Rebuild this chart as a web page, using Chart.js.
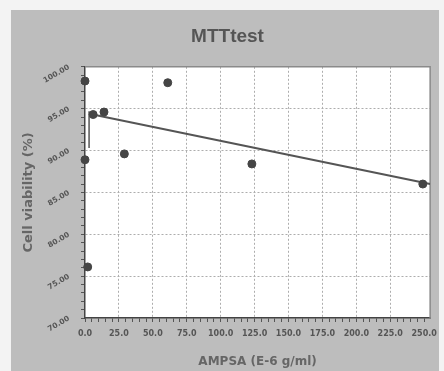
<!DOCTYPE html>
<html>
<head>
<meta charset="utf-8">
<script src="https://cdn.jsdelivr.net/npm/chart.js@4.4.0/dist/chart.umd.min.js"></script>
<style>
html, body { margin: 0; padding: 0; background: #f3f3f3; }
</style>
</head>
<body>
<canvas id="myChart" width="444" height="371"></canvas>
<script>
// MTT test
var doseValues = [0, 0, 2, 6, 14, 29, 61, 123, 249];
var viabilityValues = [98.3, 88.9, 76.1, 94.3, 94.6, 89.6, 98.1, 88.4, 86.0];

// fitted trend line and the short vertical bar near the origin
var fitX = [3, 254.4];
var fitY = [94.4, 86.0];
var barX = [3, 3];
var barY = [94.7, 90.3];

// axis ticks
var xTickValues = [0, 25, 50, 75, 100, 125, 150, 175, 200, 225, 250];
var xTickLabels = ['0.0', '25.0', '50.0', '75.0', '100.0', '125.0', '150.0', '175.0', '200.0', '225.0', '250.0'];
var yTickValues = [70, 75, 80, 85, 90, 95, 100];
var yTickLabels = ['70.00', '75.00', '80.00', '85.00', '90.00', '95.00', '100.00'];
var xMinorStep = 5;
var yMinorStep = 1;

function toPoints(xs, ys) {
  return xs.map(function (x, i) { return { x: x, y: ys[i] }; });
}

// major + minor tick marks
function buildTicks(values, step, min, max) {
  var out = [];
  for (var v = min; v <= max + 1e-6; v += step) {
    var major = values.indexOf(Math.round(v * 100) / 100);
    out.push({ value: v, major: major >= 0 });
  }
  return out;
}

function labelFor(values, labels, v) {
  var i = values.indexOf(Math.round(v * 100) / 100);
  return i >= 0 ? labels[i] : '';
}

function gridColor(values, first, last) {
  return function (ctx) {
    if (!ctx.tick) return 'rgba(0,0,0,0)';
    var v = ctx.tick.value;
    if (v === first || v === last) return 'rgba(0,0,0,0)';
    return values.indexOf(Math.round(v * 100) / 100) >= 0 ? '#adadad' : 'rgba(0,0,0,0)';
  };
}

var framePlugin = {
  id: 'frame',
  beforeDraw: function (chart) {
    var c = chart.ctx, a = chart.chartArea;
    c.save();
    c.fillStyle = '#f3f3f3';
    c.fillRect(0, 0, chart.width, chart.height);
    c.fillStyle = '#bdbdbd';
    c.fillRect(11, 10, 428, 361);
    c.fillStyle = '#ffffff';
    c.fillRect(a.left, a.top, a.right - a.left, a.bottom - a.top);
    c.restore();
  },
  beforeDatasetsDraw: function (chart) {
    var c = chart.ctx, a = chart.chartArea;
    c.save();
    c.strokeStyle = '#8a8a8a';
    c.lineWidth = 1.5;
    c.beginPath();
    c.moveTo(a.left, a.top);
    c.lineTo(a.right, a.top);
    c.lineTo(a.right, a.bottom);
    c.stroke();
    c.restore();
  }
};

var ctx = document.getElementById('myChart');
var myChart = new Chart(ctx, {
  type: 'scatter',
  data: {
    datasets: [{
      label: 'Cell viability',
      data: toPoints(doseValues, viabilityValues),
      backgroundColor: '#454545',
      borderColor: '#454545',
      pointRadius: 4,
      clip: false
    }, {
      label: 'Fit',
      data: toPoints(fitX, fitY),
      showLine: true,
      borderColor: '#555555',
      borderWidth: 2,
      pointRadius: 0
    }, {
      label: 'Bar',
      data: toPoints(barX, barY),
      showLine: true,
      borderColor: '#555555',
      borderWidth: 1.5,
      pointRadius: 0
    }]
  },
  options: {
    responsive: false,
    animation: false,
    layout: { padding: { left: 21, right: 10, top: 0, bottom: 0 } },
    plugins: {
      legend: { display: false },
      tooltip: { enabled: false },
      title: {
        display: true,
        text: 'MTTtest',
        color: '#555555',
        font: { family: 'Liberation Sans', size: 19, weight: 'bold' },
        padding: { top: 25, bottom: 19 }
      }
    },
    scales: {
      x: {
        type: 'linear',
        min: 0,
        max: 254.4,
        afterBuildTicks: function (scale) {
          scale.ticks = buildTicks(xTickValues, xMinorStep, 0, 250);
        },
        afterFit: function (scale) { scale.height = 53; },
        grid: {
          color: gridColor(xTickValues, 0, 250),
          tickLength: 4,
          tickColor: '#555555',
          tickBorderDash: []
        },
        border: { color: '#444444', width: 1.5, dash: [2, 2] },
        ticks: {
          color: '#555555',
          font: { family: 'DejaVu Sans', size: 8, weight: 'bold' },
          padding: 7,
          autoSkip: false,
          maxRotation: 0,
          callback: function (v) { return labelFor(xTickValues, xTickLabels, v); }
        },
        title: {
          display: true,
          text: 'AMPSA (E-6 g/ml)',
          color: '#666666',
          font: { family: 'DejaVu Sans', size: 12, weight: 'bold' },
          padding: { top: 0, bottom: 2 }
        }
      },
      y: {
        min: 70,
        max: 100,
        afterBuildTicks: function (scale) {
          scale.ticks = buildTicks(yTickValues, yMinorStep, 70, 100);
        },
        afterFit: function (scale) { scale.width = 64; },
        grid: {
          color: gridColor(yTickValues, 70, 100),
          tickLength: 4,
          tickColor: '#555555',
          tickBorderDash: []
        },
        border: { color: '#444444', width: 1.5, dash: [2, 2] },
        ticks: {
          color: '#555555',
          font: { family: 'DejaVu Sans', size: 7.5, weight: 'bold' },
          padding: 12,
          autoSkip: false,
          minRotation: 30,
          maxRotation: 30,
          callback: function (v) { return labelFor(yTickValues, yTickLabels, v); }
        },
        title: {
          display: true,
          text: 'Cell viability (%)',
          color: '#666666',
          font: { family: 'DejaVu Sans', size: 13, weight: 'bold' },
          padding: 0
        }
      }
    }
  },
  plugins: [framePlugin]
});
</script>
</body>
</html>
